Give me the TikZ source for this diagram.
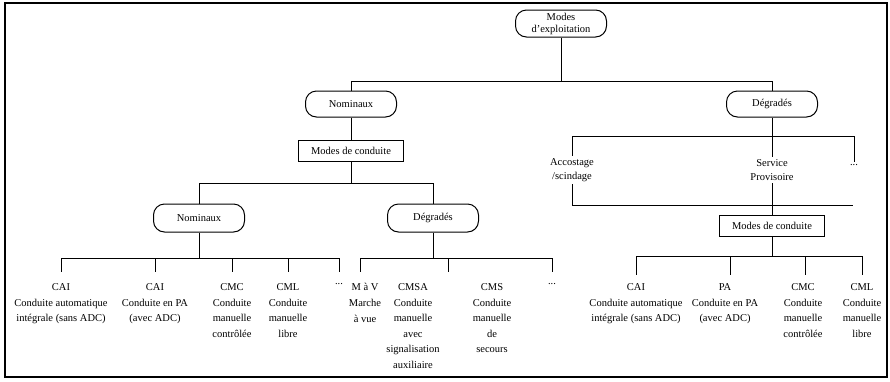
\documentclass[tikz,border=0pt]{standalone}
\usepackage{fontspec}
\setmainfont{Liberation Serif}
\begin{document}
\begin{tikzpicture}[x=1pt,y=-1pt,
  font=\fontsize{10.5}{15.6}\selectfont,
  every path/.style={line width=1pt},
  rbox/.style={draw, rounded corners=11pt, minimum width=91pt, minimum height=26pt, inner sep=1pt, align=center},
  sbox/.style={draw, minimum width=105pt, minimum height=21pt, inner sep=1pt},
  leaf/.style={anchor=north, align=center, inner sep=0pt},
  mid/.style={align=center, inner sep=2pt, font=\fontsize{10.5}{14}\selectfont}]
\path[use as bounding box] (0,0) rectangle (890,381);
\draw[line width=1.6pt] (5,3) rectangle (887,377);

% upper levels
\node[rbox, minimum height=27pt, font=\fontsize{10.5}{12}\selectfont] (top) at (561,23.5) {Modes\\d'exploitation};
\node[rbox] (nom) at (351,104) {Nominaux};
\node[rbox] (deg) at (772,104) {Dégradés};
\node[sbox] (mc1) at (351,150.5) {Modes de conduite};
\node[rbox, minimum height=28pt] (nom2) at (199,218) {Nominaux};
\node[rbox, minimum height=28pt] (deg2) at (433,218) {Dégradés};

\coordinate (b1) at (0,81);
\coordinate (b2) at (0,183);
\coordinate (b3) at (0,258);
\coordinate (b4) at (0,136);
\coordinate (b5) at (0,205);
\coordinate (b6) at (0,256);

\draw (top.south) -- (top.south |- b1);
\draw (nom.north) -- (nom.north |- b1) -- (deg.north |- b1) -- (deg.north);
\draw (nom.south) -- (mc1.north);
\draw (mc1.south) -- (mc1.south |- b2);
\draw (nom2.north) -- (nom2.north |- b2) -- (deg2.north |- b2) -- (deg2.north);

% left leaves
\node[leaf] (l1) at (61,283) {CAI\\Conduite automatique\\intégrale (sans ADC)};
\node[leaf] (l2) at (155,283) {CAI\\Conduite en PA\\(avec ADC)};
\node[leaf] (l3) at (232,283) {CMC\\Conduite\\manuelle\\contrôlée};
\node[leaf] (l4) at (288,283) {CML\\Conduite\\manuelle\\libre};
\node[leaf] (l5) at (339,283) {...};
\node[leaf] (l6) at (365,283) {M à V\\Marche\\à vue};
\node[leaf] (l7) at (413,283) {CMSA\\Conduite\\manuelle\\avec\\signalisation\\auxiliaire};
\node[leaf] (l8) at (492,283) {CMS\\Conduite\\manuelle\\de\\secours};
\node[leaf] (l9) at (552,283) {...};
\coordinate (v6) at (360,272);
\coordinate (v7) at (448,272);

\draw (nom2.south) -- (nom2.south |- b3);
\draw (l1.north |- b3) -- (l5.north |- b3);
\foreach \n in {l1,l2,l3,l4,l5}{\draw (\n.north |- b3) -- ([yshift=11pt]\n.north);}
\draw (deg2.south) -- (deg2.south |- b3);
\draw (v6 |- b3) -- (l9.north |- b3);
\draw (v6 |- b3) -- (v6);
\draw (v7 |- b3) -- (v7);
\draw (l9.north |- b3) -- ([yshift=11pt]l9.north);

% right branch
\node[mid] (acc) at (572,170) {Accostage\\/scindage};
\node[mid] (sp) at (772,170) {Service\\Provisoire};
\node[mid] (d3) at (854,165) {...};
\node[sbox] (mc2) at (772,225.5) {Modes de conduite};
\coordinate (b5e) at (853,205);

\draw (deg.south) -- (sp.north);
\draw (acc.north) -- (acc.north |- b4) -- (d3.north |- b4) -- (d3.north);
\draw (acc.south) -- (acc.south |- b5) -- (b5e);
\draw (sp.south) -- (mc2.north);

\node[leaf] (r1) at (636,283) {CAI\\Conduite automatique\\intégrale (sans ADC)};
\node[leaf] (r2) at (725,283) {PA\\Conduite en PA\\(avec ADC)};
\node[leaf] (r3) at (803,283) {CMC\\Conduite\\manuelle\\contrôlée};
\node[leaf] (r4) at (862,283) {CML\\Conduite\\manuelle\\libre};
\coordinate (w2) at (730,275);
\coordinate (w3) at (805,275);

\draw (mc2.south) -- (mc2.south |- b6);
\draw (r1.north |- b6) -- (r4.north |- b6);
\draw (r1.north |- b6) -- ([yshift=8pt]r1.north);
\draw (r4.north |- b6) -- ([yshift=8pt]r4.north);
\draw (w2 |- b6) -- (w2);
\draw (w3 |- b6) -- (w3);
\end{tikzpicture}
\end{document}
